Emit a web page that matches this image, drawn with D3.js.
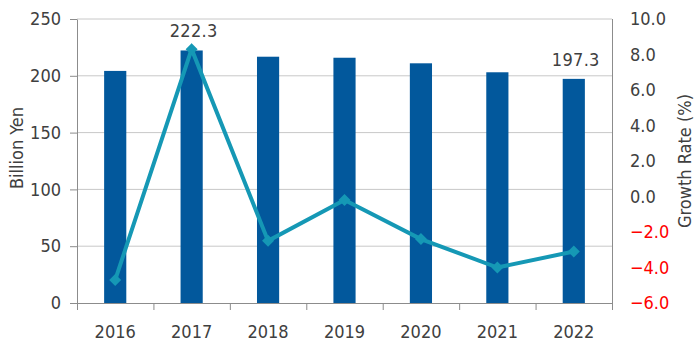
<!DOCTYPE html>
<html><head><meta charset="utf-8">
<script src="https://cdn.jsdelivr.net/npm/d3@7"></script>
<style>body{margin:0;background:#fff}svg{display:block}</style>
</head><body>
<svg id="c" width="700" height="361"></svg>
<script>
const years = ["2016","2017","2018","2019","2020","2021","2022"];
const sales = [204.3, 222.3, 216.8, 215.9, 211.0, 203.1, 197.3];
const growth = [-4.7, 8.3, -2.5, -0.2, -2.4, -4.0, -3.1];
const leftTicks = [0, 50, 100, 150, 200, 250];
const rightTicks = [-6, -4, -2, 0, 2, 4, 6, 8, 10];
const labelledYears = ["2017", "2022"];

const svg = d3.select("#c");
const L = 77, R = 612, T = 19, B = 303;
const font = "'DejaVu Sans Condensed','DejaVu Sans',sans-serif";
const fs = 18;
const txt = "#404040";
const x = d3.scaleBand().domain(years).range([L, R]).paddingInner(0.71).paddingOuter(0.355);
const xb = d3.scaleBand().domain(years).range([L, R]);
const y = d3.scaleLinear().domain([0, 250]).range([B, T]);
const y2 = d3.scaleLinear().domain([-6, 10]).range([B, T]);

// gridlines
svg.append("g").selectAll("line").data(leftTicks.filter(d => d > 0)).join("line")
  .attr("x1", L).attr("x2", R).attr("y1", d => y(d)).attr("y2", d => y(d))
  .attr("stroke", "#c8c8c8").attr("stroke-width", 1);
// right frame
svg.append("line").attr("x1", R + 0.5).attr("x2", R + 0.5).attr("y1", T).attr("y2", B)
  .attr("stroke", "#8c8c8c");

// bars
svg.append("g").selectAll("rect").data(years).join("rect")
  .attr("x", d => x(d)).attr("width", x.bandwidth())
  .attr("y", (d, i) => y(sales[i])).attr("height", (d, i) => y(0) - y(sales[i]))
  .attr("fill", "#02589c");

// left axis
const ga = svg.append("g").attr("transform", `translate(${L},0)`)
  .call(d3.axisLeft(y).tickValues(leftTicks).tickSize(7).tickPadding(9).tickSizeOuter(0));
ga.select(".domain").attr("stroke", "#8c8c8c");
ga.selectAll(".tick line").attr("stroke", "#8c8c8c");
ga.selectAll("text").attr("font-family", font).attr("font-size", fs).attr("fill", txt);

// right axis
const gr = svg.append("g").attr("transform", `translate(${R},0)`)
  .call(d3.axisRight(y2).tickValues(rightTicks).tickSize(0).tickPadding(18).tickFormat(d3.format(".1f")));
gr.select(".domain").remove();
gr.selectAll("text").attr("font-family", font).attr("font-size", fs)
  .attr("fill", d => d < 0 ? "#ff0000" : txt);

// bottom axis
const gb = svg.append("g").attr("transform", `translate(0,${B})`);
gb.append("line").attr("x1", 71).attr("x2", R + 1).attr("y1", 0.5).attr("y2", 0.5).attr("stroke", "#8c8c8c");
gb.selectAll("line.t").data(years.concat(["end"])).join("line").attr("class", "t")
  .attr("x1", (d, i) => i < years.length ? xb(d) + 0.5 : R + 0.5)
  .attr("x2", (d, i) => i < years.length ? xb(d) + 0.5 : R + 0.5)
  .attr("y1", 0).attr("y2", 7).attr("stroke", "#8c8c8c");
gb.selectAll("text").data(years).join("text")
  .attr("x", d => xb(d) + xb.bandwidth() / 2).attr("y", 35)
  .attr("text-anchor", "middle").attr("font-family", font).attr("font-size", fs).attr("fill", txt)
  .text(d => d);

// line
const line = d3.line().x((d, i) => x(years[i]) + x.bandwidth() / 2).y(d => y2(d));
svg.append("path").datum(growth).attr("d", line).attr("fill", "none")
  .attr("stroke", "#1598b5").attr("stroke-width", 4).attr("stroke-linejoin", "miter");
svg.append("g").selectAll("path").data(growth).join("path")
  .attr("d", d3.symbol().type(d3.symbolSquare).size(72))
  .attr("transform", (d, i) => `translate(${x(years[i]) + x.bandwidth() / 2},${y2(d)}) rotate(45)`)
  .attr("fill", "#1598b5");

// value labels
svg.append("g").selectAll("text").data(labelledYears).join("text")
  .attr("x", d => x(d) + x.bandwidth() / 2 + 2)
  .attr("y", d => y(sales[years.indexOf(d)]) - 13)
  .attr("text-anchor", "middle").attr("font-family", font).attr("font-size", fs).attr("fill", txt)
  .attr("letter-spacing", 0.3)
  .text(d => sales[years.indexOf(d)].toFixed(1));

// axis titles
svg.append("text").attr("transform", `translate(23,148) rotate(-90)`)
  .attr("text-anchor", "middle").attr("font-family", font).attr("font-size", fs).attr("fill", txt)
  .text("Billion Yen");
svg.append("text").attr("transform", `translate(691,161) rotate(-90)`)
  .attr("text-anchor", "middle").attr("font-family", font).attr("font-size", fs).attr("fill", txt)
  .text("Growth Rate (%)");
</script>
</body></html>
